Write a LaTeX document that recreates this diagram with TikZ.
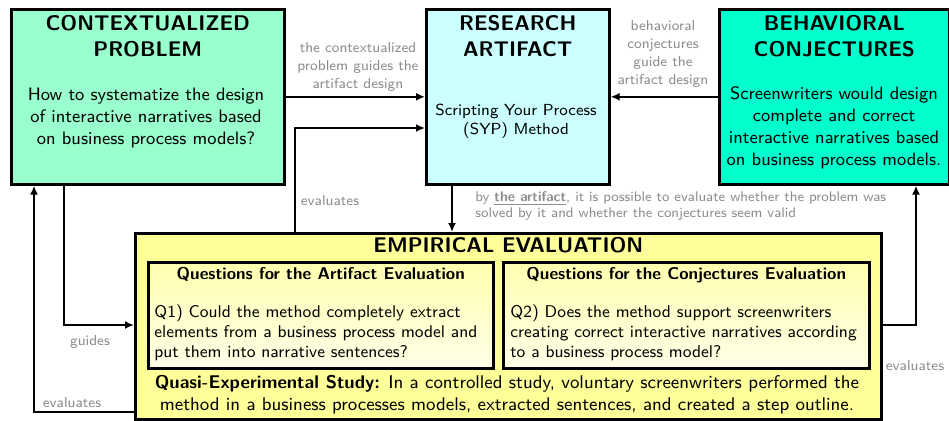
\documentclass[tikz,border=0pt]{standalone}
\usepackage{fontspec}
\usepackage{tikz}
\usetikzlibrary{positioning,arrows.meta}
\renewcommand{\familydefault}{\sfdefault}
\definecolor{problemcol}{HTML}{99FFCC}
\definecolor{artifactcol}{HTML}{CCFFFF}
\definecolor{conjcol}{HTML}{00FFCC}
\definecolor{evalcol}{HTML}{FFFF99}
\definecolor{questtop}{HTML}{FFFFB0}
\definecolor{questbot}{HTML}{FFFFE8}

\begin{document}
\begin{tikzpicture}[x=0.5pt,y=-0.5pt]
		\tikzset{
			box/.style = {draw, line width=1.3pt, anchor=north west, inner sep=0pt},
			qbox/.style = {box, top color=questtop, bottom color=questbot},
			title/.style = {align=center, inner sep=0pt, font=\fontsize{10.6}{12.8}\selectfont\bfseries},
			body/.style = {align=center, inner sep=0pt, font=\fontsize{9}{11}\selectfont},
			qtext/.style = {align=left, anchor=north west, inner sep=0pt, font=\fontsize{8.5}{10}\selectfont},
			note/.style = {align=center, inner sep=0pt, text=black!45, font=\fontsize{7.2}{9}\selectfont},
			flow/.style = {-{Latex[length=4.5pt,width=4pt]}, line width=1.1pt}
		}
		\useasboundingbox (0,0) rectangle (949,420);
		% the three boxes on top
		\node[box, fill=problemcol, minimum width=136.5pt, minimum height=87.5pt] (cp) at (10,8) {};
		\node[box, fill=artifactcol, minimum width=91.5pt, minimum height=87.5pt] (ra) at (425,8) {};
		\node[box, fill=conjcol, minimum width=115pt, minimum height=87.5pt] (bc) at (718,8) {};
		\node[title, below=3.5pt of cp.north] (cptitle) {CONTEXTUALIZED\\PROBLEM};
		\node[title, below=3.5pt of ra.north] (ratitle) {RESEARCH\\ARTIFACT};
		\node[title, below=3.5pt of bc.north] (bctitle) {BEHAVIORAL\\CONJECTURES};
		\node[body] (cpbody) at (146,118) {How to systematize the design\\of interactive narratives based\\on business process models?};
		\node[body, font=\fontsize{8}{9.5}\selectfont] (rabody) at (516,121) {Scripting Your Process\\(SYP) Method};
		\node[body] (bcbody) at (834,128) {Screenwriters would design\\complete and correct\\interactive narratives based\\on business process models.};
		% evaluation box
		\node[box, fill=evalcol, minimum width=373pt, minimum height=93pt] (ee) at (134,232) {};
		\node[title, below=2.5pt of ee.north] (eetitle) {EMPIRICAL EVALUATION};
		\node[qbox, minimum width=172.5pt, minimum height=53pt] (q1) at (147,261) {};
		\node[qbox, minimum width=183pt, minimum height=53pt] (q2) at (502,261) {};
		\node[body, font=\fontsize{8.5}{10}\selectfont\bfseries, below=3pt of q1.north] (q1title) {Questions for the Artifact Evaluation};
		\node[body, font=\fontsize{8.5}{10}\selectfont\bfseries, below=3pt of q2.north] (q2title) {Questions for the Conjectures Evaluation};
		\node[qtext] (q1body) at (154,304) {Q1) Could the method completely extract\\elements from a business process model and\\put them into narrative sentences?};
		\node[qtext] (q2body) at (510,304) {Q2) Does the method support screenwriters\\creating correct interactive narratives according\\to a business process model?};
		\node[body, font=\fontsize{9.2}{11}\selectfont] (study) at (507,395) {\textbf{Quasi-Experimental Study:} In a controlled study, voluntary screenwriters performed the\\method in a business processes models, extracted sentences, and created a step outline.};
		% connectors
		\draw[flow] (cp) -- (ra);
		\draw[flow] (bc) -- (ra);
		\draw[flow] (ra.south -| 452,0) -- (ee.north -| 452,0);
		\draw[flow] (ee.north -| 295,0) |- (ra.west |- 0,128);
		\draw[flow] (ee.east |- 0,325) -| (bc.south -| 916,0);
		\draw[flow] (cp.south -| 64,0) |- (ee.west |- 0,325);
		\draw[flow] (ee.west |- 0,412) -| (cp.south -| 34,0);
		% labels
		\node[note] (guidelbl) at (358,67) {the contextualized\\problem guides the\\artifact design};
		\node[note] (conjlbl) at (663,54) {behavioral\\conjectures\\guide the\\artifact design};
		\node[note, align=left, anchor=west, font=\fontsize{7}{8.2}\selectfont] (bylbl) at (475,206) {by \underline{\textbf{the artifact}}, it is possible to evaluate whether the problem was\\solved by it and whether the conjectures seem valid};
		\node[note] (evallbl) at (330,201) {evaluates};
		\node[note] (guideslbl) at (90,342) {guides};
		\node[note] (evalleft) at (72,403) {evaluates};
		\node[note] (evalright) at (915,366) {evaluates};
\end{tikzpicture}
\end{document}
